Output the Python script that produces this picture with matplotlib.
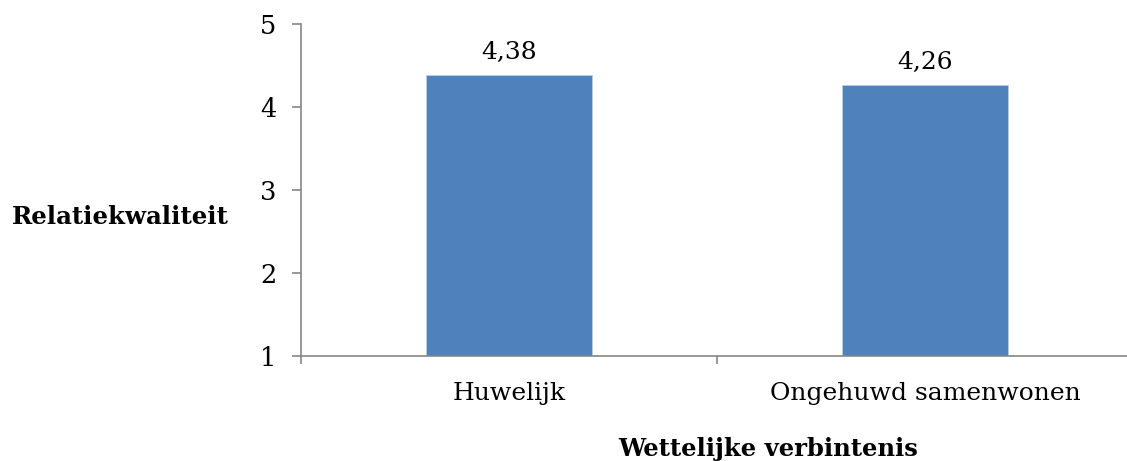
import matplotlib
matplotlib.use('Agg')
import matplotlib.pyplot as plt

# data
categories = ['Huwelijk', 'Ongehuwd samenwonen']
values = [4.38, 4.26]
y_ticks = [1, 2, 3, 4, 5]

plt.rcParams['font.family'] = ['DejaVu Serif']

fig = plt.figure(figsize=(11.27, 4.61), dpi=100)
ax = fig.add_axes([0.2671, 0.2278, 0.7382, 0.7202])

x = list(range(len(categories)))
ax.bar(x, values, width=0.4, bottom=0, color='#4F81BD', edgecolor='#B9CDE5', linewidth=0.6, zorder=2)

# labels above bars, with comma decimals
for xi, v in zip(x, values):
    ax.annotate(('%.2f' % v).replace('.', ','), (xi, v), xytext=(0, 12), textcoords='offset points',
                ha='center', va='baseline', fontsize=18)

ax.set_xlim(-0.5, 1.5)
ax.set_ylim(1, 5)
ax.set_yticks(y_ticks)
ax.set_yticklabels([str(t) for t in y_ticks], fontsize=18.5)
ax.set_xticks(x)
ax.set_xticklabels(categories, fontsize=18)
ax.set_xticks([-0.5, 0.5, 1.5], minor=True)

for s in ['top', 'right']:
    ax.spines[s].set_visible(False)
for s in ['left', 'bottom']:
    ax.spines[s].set_color('#868686')
    ax.spines[s].set_linewidth(1.2)
    ax.spines[s].set_clip_on(False)

ax.tick_params(axis='y', length=6.5, width=1.2, color='#868686', direction='out', pad=11)
ax.tick_params(axis='x', which='major', length=0, pad=19)
ax.tick_params(axis='x', which='minor', length=6, width=1.2, color='#868686', direction='out')

fig.text(12 / 1127, 1 - 217 / 461, 'Relatiekwaliteit', fontsize=17.6, fontweight='bold', ha='left', va='center')
fig.text(768 / 1127, 1 - 449 / 461, 'Wettelijke verbintenis', fontsize=17.5, fontweight='bold', ha='center', va='center')

fig.savefig('out.png', dpi=100)
